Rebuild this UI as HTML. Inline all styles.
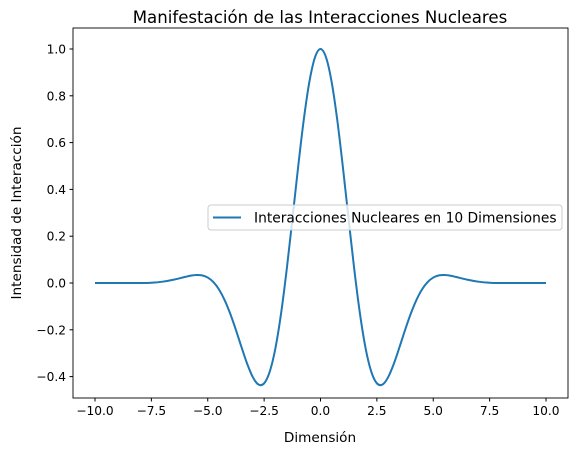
<!DOCTYPE html>
<html><head><meta charset="utf-8"><style>
body{margin:0;background:#fff}
svg{display:block;font-family:"DejaVu Sans","Liberation Sans",sans-serif}
</style></head><body>
<svg id="chart" width="578" height="455" viewBox="0 0 578 455">
<rect x="0" y="0" width="578" height="455" fill="#fff"/>
<text x="320" y="23" text-anchor="middle" font-size="16.6" fill="#000">Manifestación de las Interacciones Nucleares</text>
<g id="xt"></g>
<g id="yt"></g>
<path id="line" fill="none" stroke="#1f77b4" stroke-width="2"/>
<rect x="73" y="28" width="495" height="370" fill="none" stroke="#000" stroke-width="0.9"/>
<text x="320" y="442" text-anchor="middle" font-size="13.6">Dimensión</text>
<text transform="translate(21,213) rotate(-90)" text-anchor="middle" font-size="13.6">Intensidad de Interacción</text>
<g>
<rect x="208" y="205" width="354" height="25" rx="3" fill="#fff" fill-opacity="0.8" stroke="#ccc"/>
<line x1="213" y1="217.5" x2="241" y2="217.5" stroke="#1f77b4" stroke-width="2"/>
<text x="254" y="222.5" font-size="13.8">Interacciones Nucleares en 10 Dimensiones</text>
</g>
</svg>
<script>
const xs=[-10,-9,-8.5,-8,-7.5,-7,-6.5,-6,-5.75,-5.5,-5.25,-5,-4.75,-4.5,-4.25,-4,-3.75,-3.5,-3.25,-3,-2.75,-2.5,-2.25,-2,-1.75,-1.5,-1.25,-1,-0.75,-0.5,-0.25,0,0.25,0.5,0.75,1,1.25,1.5,1.75,2,2.25,2.5,2.75,3,3.25,3.5,3.75,4,4.25,4.5,4.75,5,5.25,5.5,5.75,6,6.5,7,7.5,8,8.5,9,10];
const ys=[0,0,0,-0.0002,0.0012,0.0056,0.0143,0.0262,0.0316,0.0344,0.0325,0.0233,0.0039,-0.0278,-0.0733,-0.132,-0.2009,-0.2751,-0.3457,-0.4025,-0.4339,-0.4288,-0.3786,-0.2789,-0.1312,0.0565,0.2697,0.4889,0.6917,0.8559,0.9629,1,0.9629,0.8559,0.6917,0.4889,0.2697,0.0565,-0.1312,-0.2789,-0.3786,-0.4288,-0.4339,-0.4025,-0.3457,-0.2751,-0.2009,-0.132,-0.0733,-0.0278,0.0039,0.0233,0.0325,0.0344,0.0316,0.0262,0.0143,0.0056,0.0012,-0.0002,0,0,0];
const xTicks=[-10,-7.5,-5,-2.5,0,2.5,5,7.5,10];
const yTicks=[-0.4,-0.2,0,0.2,0.4,0.6,0.8,1.0];
const X=v=>95+(v+10)*22.55;
const Y=v=>283-v*234;
const NS='http://www.w3.org/2000/svg';
let pts=xs.map((x,i)=>[X(x),Y(ys[i])]);
let d='M'+pts[0][0].toFixed(2)+' '+pts[0][1].toFixed(2);
for(let i=0;i<pts.length-1;i++){
 const p0=pts[Math.max(i-1,0)],p1=pts[i],p2=pts[i+1],p3=pts[Math.min(i+2,pts.length-1)];
 const c1=[p1[0]+(p2[0]-p0[0])/6,p1[1]+(p2[1]-p0[1])/6];
 const c2=[p2[0]-(p3[0]-p1[0])/6,p2[1]-(p3[1]-p1[1])/6];
 d+=' C'+c1.map(v=>v.toFixed(2)).join(' ')+' '+c2.map(v=>v.toFixed(2)).join(' ')+' '+p2.map(v=>v.toFixed(2)).join(' ');
}
document.getElementById('line').setAttribute('d',d);
const xt=document.getElementById('xt');
xTicks.forEach(t=>{
 const l=document.createElementNS(NS,'line');
 l.setAttribute('x1',X(t));l.setAttribute('x2',X(t));l.setAttribute('y1',398);l.setAttribute('y2',401.5);l.setAttribute('stroke','#000');
 
 
 xt.appendChild(l);
 const tx=document.createElementNS(NS,'text');
 tx.setAttribute('x',X(t));tx.setAttribute('y',415);tx.setAttribute('text-anchor','middle');tx.setAttribute('font-size','12.2');
 tx.textContent=t.toFixed(1).replace('-','−');
 
 
 xt.appendChild(tx);
});
const yt=document.getElementById('yt');
yTicks.forEach(t=>{
 const l=document.createElementNS(NS,'line');
 l.setAttribute('x1',69.5);l.setAttribute('x2',73);l.setAttribute('y1',Y(t));l.setAttribute('y2',Y(t));l.setAttribute('stroke','#000');
 
 
 yt.appendChild(l);
 const tx=document.createElementNS(NS,'text');
 tx.setAttribute('x',66);tx.setAttribute('y',Y(t)+4.5);tx.setAttribute('text-anchor','end');tx.setAttribute('font-size','12.2');
 tx.textContent=t.toFixed(1).replace('-','−');
 
 
 yt.appendChild(tx);
});
</script>
</body></html>
